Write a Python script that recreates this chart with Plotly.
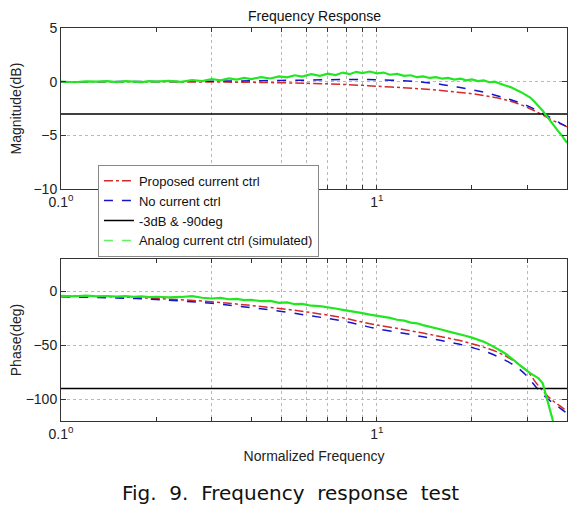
import plotly.graph_objects as go
from plotly.subplots import make_subplots

# ---- data ----
freq = [0.10, 0.15, 0.20, 0.30, 0.40, 0.50, 0.60, 0.70, 0.80, 0.90, 1.00, 1.20, 1.40, 1.60,
        1.80, 2.00, 2.20, 2.40, 2.60, 2.80, 3.00, 3.20, 3.40, 3.60, 3.80, 4.00]
mag_proposed = [0.0, 0.0, -0.01, -0.03, -0.06, -0.1, -0.15, -0.2, -0.27, -0.34, -0.42, -0.55, -0.68,
                -0.82, -0.97, -1.12, -1.3, -1.5, -1.75, -2.05, -2.4, -2.8, -3.2, -3.6, -3.9, -4.2]
mag_nocurrent = [0.0, 0.01, 0.02, 0.05, 0.08, 0.12, 0.15, 0.18, 0.2, 0.2, 0.18, 0.1, -0.05,
                 -0.25, -0.5, -0.75, -1.0, -1.3, -1.6, -1.9, -2.25, -2.65, -3.05, -3.45, -3.85, -4.2]
ph_proposed = [-4, -5, -6.5, -9.5, -13, -16, -19, -22, -25, -28.5, -31, -35, -38.5, -42, -45,
               -48.5, -52, -56, -61, -67, -74, -85, -94, -101, -106, -111]
ph_nocurrent = [-5, -6, -7.5, -11, -15, -18.5, -22, -25, -28, -31.5, -34.5, -38.5, -42, -45.5,
                -48.5, -52, -55.5, -60, -65, -71, -79, -89, -97, -103, -108, -113]

gfreq = [0.10, 0.11, 0.12, 0.13, 0.14, 0.15, 0.16, 0.17, 0.18, 0.19, 0.20, 0.22, 0.24, 0.26, 0.28,
         0.30, 0.32, 0.34, 0.36, 0.38, 0.40, 0.43, 0.46, 0.49, 0.52, 0.55, 0.58, 0.62, 0.66, 0.70,
         0.74, 0.78, 0.82, 0.86, 0.90, 0.95, 1.00, 1.05, 1.10, 1.16, 1.22, 1.28, 1.34, 1.40, 1.47,
         1.54, 1.61, 1.68, 1.76, 1.84, 1.92, 2.00, 2.09, 2.18, 2.27, 2.36, 2.45, 2.55, 2.65, 2.75,
         2.85, 2.95, 3.05, 3.15, 3.25, 3.35, 3.45, 3.55, 3.65, 3.75, 3.85, 3.95, 4.00]
mag_analog = [0.02, -0.05, 0.04, 0.0, 0.06, -0.03, 0.05, 0.01, -0.04, 0.05, 0.0, 0.08, -0.02, 0.15,
              0.05, 0.25, 0.12, 0.3, 0.2, 0.35, 0.25, 0.42, 0.3, 0.5, 0.4, 0.6, 0.48, 0.7, 0.55,
              0.75, 0.62, 0.85, 0.7, 0.92, 0.8, 0.95, 0.78, 0.85, 0.65, 0.72, 0.55, 0.6, 0.42, 0.5,
              0.35, 0.42, 0.28, 0.35, 0.2, 0.28, 0.12, 0.22, 0.05, 0.12, -0.05, 0.0, -0.2, -0.35,
              -0.5, -0.7, -0.95, -1.2, -1.45, -1.85, -2.25, -2.7, -3.2, -3.7, -4.15, -4.6, -5.0,
              -5.5, -5.7]
ph_analog = [-4.0, -4.5, -3.8, -4.6, -4.2, -4.8, -4.3, -5.0, -4.6, -5.2, -4.9, -5.5, -5.1, -4.3,
             -5.8, -6.5, -6.0, -7.2, -6.8, -8.0, -7.8, -9.0, -8.7, -10.5, -10.2, -11.8, -11.5,
             -13.2, -13.5, -15.0, -15.8, -17.0, -17.8, -19.2, -20.0, -21.5, -22.5, -23.8, -24.5,
             -26.2, -27.0, -28.8, -29.5, -31.2, -32.5, -34.2, -35.5, -37.0, -38.3, -40.0, -41.2,
             -42.8, -44.5, -46.5, -49.0, -51.5, -54.5, -57.5, -61.0, -65.0, -69.0, -72.5, -75.5,
             -78.0, -80.5, -85.0, -100.0, -112.0, -125.0, -135.0, -145.0, -155.0, -160.0]

ref_freq = [0.1, 4.0]
ref_mag = [-3, -3]
ref_phase = [-90, -90]

# tick positions: labelled decades plus gridded minor positions
top_tickvals = [0.1, 0.3, 0.5, 0.6, 0.7, 0.8, 0.9, 1]
top_ticktext = ["0.1<sup>0</sup>", "", "", "", "", "", "", "1<sup>1</sup>"]
bot_tickvals = [0.1, 0.3, 0.5, 0.6, 0.7, 0.8, 0.9, 1, 2, 3]
bot_ticktext = ["0.1<sup>0</sup>", "", "", "", "", "", "", "1<sup>1</sup>", "", ""]
top_plain_ticks = [0.2, 0.4, 2, 3]
bot_plain_ticks = [0.2, 0.4]

# ---- figure ----
RED = "#d42a2a"
BLUE = "#1414c8"
GREEN = "#22e622"

fig = make_subplots(rows=2, cols=1, vertical_spacing=0.0)

fig.add_trace(go.Scatter(x=freq, y=mag_proposed, mode="lines", line=dict(color=RED, dash="dashdot", width=1.5, shape="spline"),
                         name="Proposed current ctrl"), row=1, col=1)
fig.add_trace(go.Scatter(x=freq, y=mag_nocurrent, mode="lines", line=dict(color=BLUE, dash="dash", width=1.5, shape="spline"),
                         name="No current ctrl"), row=1, col=1)
fig.add_trace(go.Scatter(x=ref_freq, y=ref_mag, mode="lines", line=dict(color="black", width=1.5),
                         name="-3dB & -90deg"), row=1, col=1)
fig.add_trace(go.Scatter(x=gfreq, y=mag_analog, mode="lines", line=dict(color=GREEN, width=2.2),
                         name="Analog current ctrl (simulated)", showlegend=False), row=1, col=1)
# legend-only entry for the analog trace (dashed swatch)
fig.add_trace(go.Scatter(x=[None], y=[None], mode="lines", line=dict(color="#66ee66", dash="dash", width=1.5),
                         name="Analog current ctrl (simulated)"), row=1, col=1)

fig.add_trace(go.Scatter(x=freq, y=ph_proposed, mode="lines", line=dict(color=RED, dash="dashdot", width=1.5, shape="spline"),
                         showlegend=False), row=2, col=1)
fig.add_trace(go.Scatter(x=freq, y=ph_nocurrent, mode="lines", line=dict(color=BLUE, dash="dash", width=1.5, shape="spline"),
                         showlegend=False), row=2, col=1)
fig.add_trace(go.Scatter(x=ref_freq, y=ref_phase, mode="lines", line=dict(color="black", width=1.5),
                         showlegend=False), row=2, col=1)
fig.add_trace(go.Scatter(x=gfreq, y=ph_analog, mode="lines", line=dict(color=GREEN, width=2.2),
                         showlegend=False), row=2, col=1)

FONT = "Arial"
GRID = "#b8b8b8"
xcommon = dict(type="log", range=[-1, 0.602],
               ticks="inside", ticklen=4, tickcolor="#333", showline=True, linecolor="#333", linewidth=1,
               mirror="ticks", showgrid=True, gridcolor=GRID, griddash="dot", gridwidth=1,
               zeroline=False, automargin=False,
               tickfont=dict(size=14, color="#222", family=FONT))
fig.update_xaxes(**xcommon, tickvals=top_tickvals, ticktext=top_ticktext,
                 minor=dict(ticks="inside", ticklen=4, tickcolor="#333", showgrid=False,
                            tickvals=top_plain_ticks), row=1, col=1)
fig.update_xaxes(**xcommon, tickvals=bot_tickvals, ticktext=bot_ticktext,
                 minor=dict(ticks="inside", ticklen=4, tickcolor="#333", showgrid=False,
                            tickvals=bot_plain_ticks), row=2, col=1)
fig.update_xaxes(title=dict(text="Normalized Frequency", font=dict(size=14, color="#222", family=FONT), standoff=10),
                 row=2, col=1)

ycommon = dict(ticks="inside", ticklen=5, tickcolor="#333", showline=True, linecolor="#333", linewidth=1,
               mirror="ticks", showgrid=True, gridcolor=GRID, griddash="dot", gridwidth=1,
               zeroline=False, automargin=False, tickfont=dict(size=14, color="#222", family=FONT))
fig.update_yaxes(**ycommon, range=[-10, 5], tickvals=[-10, -5, 0, 5],
                 title=dict(text="Magnitude(dB)", font=dict(size=14, color="#222", family=FONT), standoff=10),
                 row=1, col=1)
fig.update_yaxes(**ycommon, range=[-120, 30], tickvals=[-100, -50, 0],
                 title=dict(text="Phase(deg)", font=dict(size=14, color="#222", family=FONT), standoff=10),
                 row=2, col=1)

fig.update_layout(
    width=579, height=509,
    margin=dict(l=53, r=20, t=20, b=96),
    paper_bgcolor="white", plot_bgcolor="white",
    font=dict(family=FONT),
    showlegend=True,
    legend=dict(x=0.073, y=0.652, xanchor="left", yanchor="top", bgcolor="white",
                bordercolor="#888", borderwidth=1, font=dict(size=13, color="#111", family=FONT),
                tracegroupgap=0, itemwidth=30),
    annotations=[
        dict(text="Frequency Response", x=0.5, y=1.0, xref="paper", yref="paper", xanchor="center",
             yanchor="bottom", yshift=2, showarrow=False, font=dict(size=14, color="#111", family=FONT)),
        dict(text="Fig.&nbsp; 9.&nbsp; Frequency&nbsp; response&nbsp; test", x=0.453, y=-0.183,
             xref="paper", yref="paper", xanchor="center", yanchor="middle", showarrow=False,
             font=dict(size=20, color="#111", family="DejaVu Sans")),
    ],
)
fig.update_layout(xaxis=dict(domain=[0, 1]), yaxis=dict(domain=[0.590, 1.0]),
                  yaxis2=dict(domain=[0.0, 0.412]))

fig.write_html("out.html")
